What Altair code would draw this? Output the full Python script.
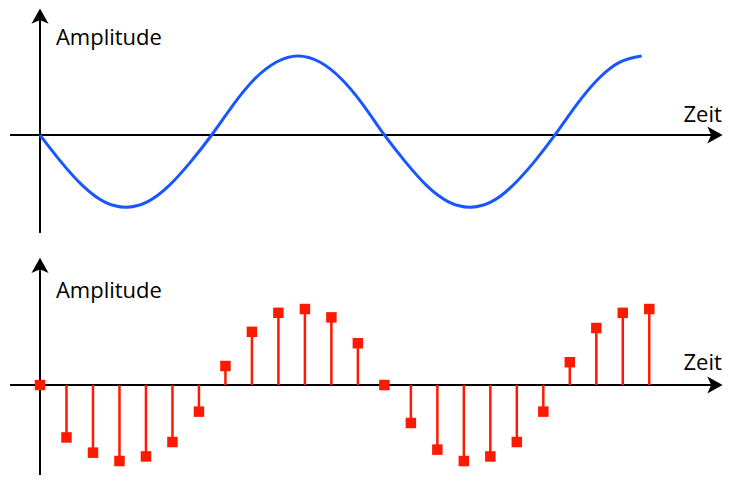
import altair as alt
import pandas as pd

# ---------------- data ----------------
# time is measured in sample periods; amplitude in units of the peak value
sample_index = list(range(24))
sample_value = [0.00, -0.69, -0.89, -1.00, -0.94, -0.75, -0.35, 0.25,
                0.70, 0.95, 1.00, 0.89, 0.55, 0.00, -0.50, -0.85,
                -1.00, -0.94, -0.75, -0.35, 0.30, 0.75, 0.95, 1.00]

curve_t = [0.00, 0.81, 1.62, 2.43, 3.24, 4.05, 4.86, 5.67, 6.48,
           7.30, 8.11, 8.93, 9.74, 10.56, 11.37, 12.19, 13.00,
           13.81, 14.61, 15.42, 16.22, 17.03, 17.83, 18.64, 19.44,
           20.26, 21.08, 21.89, 22.71]
curve_v = [0.00, -0.36, -0.67, -0.88, -0.95, -0.88, -0.67, -0.36, 0.00,
           0.40, 0.74, 0.96, 1.04, 0.96, 0.74, 0.40, 0.00,
           -0.36, -0.67, -0.88, -0.95, -0.88, -0.67, -0.36, 0.00,
           0.40, 0.74, 0.96, 1.04]

y_label = "Amplitude"
x_label = "Zeit"

# ---------------- styling / layout ----------------
BLUE = "#1a56ff"
RED = "#ff1900"
FONT = "Open Sans"
W = 715
H_TOP = 240
H_BOT = 227
X_DOMAIN = [-1.208, 25.783]
Y_DOMAIN_TOP = [-1.487, 1.671]
Y_DOMAIN_BOT = [-1.184, 1.803]
AXIS_START = -1.13
ARROW_X = 25.48
ZEIT_X = 24.29
AMP_X = 0.60

ARROW_RIGHT = "M0.9,0 L-0.9,-1 L-0.45,0 L-0.9,1 Z"
ARROW_UP = "M0,-0.9 L-1,0.9 L0,0.45 L1,0.9 Z"

samples = pd.DataFrame({"t": sample_index, "v": sample_value, "base": 0.0})
curve = pd.DataFrame({"t": curve_t, "v": curve_v})


def xs(field="t"):
    return alt.X(field, type="quantitative", axis=None,
                 scale=alt.Scale(domain=X_DOMAIN, nice=False, zero=False))


def ys(field, dom):
    return alt.Y(field, type="quantitative", axis=None,
                 scale=alt.Scale(domain=dom, nice=False, zero=False))


def frame(dom, arrow_v, line_bottom, label_v, zeit_v):
    h_axis = alt.Chart(pd.DataFrame({"a": [AXIS_START], "b": [ARROW_X], "y": [0.0]})).mark_rule(
        color="black", strokeWidth=2).encode(x=xs("a"), x2="b", y=ys("y", dom))
    v_axis = alt.Chart(pd.DataFrame({"x": [0.0], "a": [line_bottom], "b": [arrow_v]})).mark_rule(
        color="black", strokeWidth=2).encode(x=xs("x"), y=ys("a", dom), y2="b")
    h_head = alt.Chart(pd.DataFrame({"x": [ARROW_X], "y": [0.0]})).mark_point(
        shape=ARROW_RIGHT, filled=True, size=289, color="black", opacity=1, strokeWidth=0
    ).encode(x=xs("x"), y=ys("y", dom))
    v_head = alt.Chart(pd.DataFrame({"x": [0.0], "y": [arrow_v]})).mark_point(
        shape=ARROW_UP, filled=True, size=289, color="black", opacity=1, strokeWidth=0
    ).encode(x=xs("x"), y=ys("y", dom))
    labels = alt.Chart(pd.DataFrame({"x": [AMP_X, ZEIT_X], "y": [label_v, zeit_v],
                                     "s": [y_label, x_label]})).mark_text(
        align="left", baseline="alphabetic", font=FONT, fontSize=22, color="black"
    ).encode(x=xs("x"), y=ys("y", dom), text="s:N")
    return [h_axis, v_axis, h_head, v_head, labels]


# top panel: continuous signal
top_frame = frame(Y_DOMAIN_TOP, 1.563, -1.289, 1.184, 0.175)
line = alt.Chart(curve).mark_line(color=BLUE, strokeWidth=3, interpolate="natural").encode(
    x=xs("t"), y=ys("v", Y_DOMAIN_TOP), order="t:Q")
top = alt.layer(*top_frame[:2], line, *top_frame[2:]).properties(width=W, height=H_TOP)

# bottom panel: sampled signal
bot_frame = frame(Y_DOMAIN_BOT, 1.574, -1.184, 1.141, 0.197)
stems = alt.Chart(samples).mark_rule(color=RED, strokeWidth=2.5).encode(
    x=xs("t"), y=ys("base", Y_DOMAIN_BOT), y2="v")
squares = alt.Chart(samples).mark_square(color=RED, size=110, opacity=1, filled=True).encode(
    x=xs("t"), y=ys("v", Y_DOMAIN_BOT))
bottom = alt.layer(*bot_frame[:2], stems, squares, *bot_frame[2:]).properties(width=W, height=H_BOT)

chart = alt.vconcat(top, bottom, spacing=0).properties(padding=0).configure_view(stroke=None)

chart.save("out.html", embed_options={"renderer": "svg", "actions": False})
